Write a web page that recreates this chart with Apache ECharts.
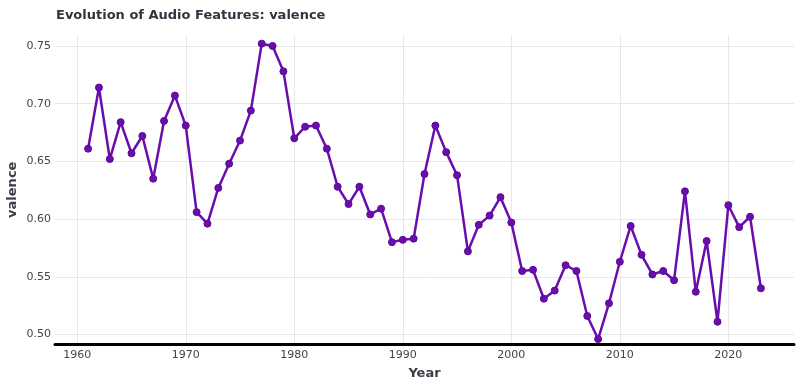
<!DOCTYPE html>
<html>
<head>
<meta charset="utf-8">
<script src="https://cdn.jsdelivr.net/npm/echarts@6/dist/echarts.min.js"></script>
<style>
html,body{margin:0;padding:0;background:#fff;}
#c{width:800px;height:387px;}
</style>
</head>
<body>
<div id="c"></div>
<script>
const years = [1961,1962,1963,1964,1965,1966,1967,1968,1969,1970,
  1971,1972,1973,1974,1975,1976,1977,1978,1979,1980,
  1981,1982,1983,1984,1985,1986,1987,1988,1989,1990,
  1991,1992,1993,1994,1995,1996,1997,1998,1999,2000,
  2001,2002,2003,2004,2005,2006,2007,2008,2009,2010,
  2011,2012,2013,2014,2015,2016,2017,2018,2019,2020,
  2021,2022,2023];
const valence = [0.661,0.714,0.652,0.684,0.657,0.672,0.635,0.685,0.707,0.681,
  0.606,0.596,0.627,0.648,0.668,0.694,0.752,0.750,0.728,0.670,
  0.680,0.681,0.661,0.628,0.613,0.628,0.604,0.609,0.580,0.582,
  0.583,0.639,0.681,0.658,0.638,0.572,0.595,0.603,0.619,0.597,
  0.555,0.556,0.531,0.538,0.560,0.555,0.516,0.496,0.527,0.563,
  0.594,0.569,0.552,0.555,0.547,0.624,0.537,0.581,0.511,0.612,
  0.593,0.602,0.540];
const xTicks = [1960,1970,1980,1990,2000,2010,2020];
const yTicks = [0.50,0.55,0.60,0.65,0.70,0.75];

const chart = echarts.init(document.getElementById('c'), null, {renderer:'canvas'});
const font = 'DejaVu Sans';
chart.setOption({
  animation:false,
  backgroundColor:'#fff',
  title:{
    text:'Evolution of Audio Features: valence',
    left:51, top:4,
    textStyle:{fontFamily:font,fontWeight:'bold',fontSize:13,color:'#2f3640'}
  },
  grid:{left:55,right:6,top:35,bottom:42.5,containLabel:false,outerBoundsMode:'none'},
  xAxis:{
    type:'value',min:1957.95,max:2026.05,
    name:'Year',nameLocation:'middle',nameGap:23,nameMoveOverlap:false,
    nameTextStyle:{fontFamily:font,fontWeight:'bold',fontSize:13,color:'#3a3f47'},
    axisLine:{show:true,onZero:false,lineStyle:{color:'#000',width:3}},
    axisTick:{show:false,customValues:xTicks},
    axisLabel:{customValues:xTicks,fontFamily:font,fontSize:11,color:'#444',margin:5,formatter:v=>String(v)},
    splitLine:{show:true,lineStyle:{color:'#e8e8e8',width:1}}
  },
  yAxis:{
    type:'value',min:0.4913,max:0.7595,
    name:'valence',nameLocation:'middle',nameGap:36,nameMoveOverlap:false,
    nameTextStyle:{fontFamily:font,fontWeight:'bold',fontSize:13,color:'#3a3f47'},
    axisLine:{show:false},
    axisTick:{show:false,customValues:yTicks},
    axisLabel:{customValues:yTicks,fontFamily:font,fontSize:11,color:'#444',margin:4,formatter:v=>v.toFixed(2)},
    splitLine:{show:true,lineStyle:{color:'#e8e8e8',width:1}}
  },
  series:[{
    type:'line',
    data:years.map((y,i)=>[y,valence[i]]),
    symbol:'circle',symbolSize:7,showSymbol:true,
    lineStyle:{color:'#6a0dad',width:2.5},
    itemStyle:{color:'#6a0dad',borderColor:'#5a0a9a',borderWidth:1},
    z:3
  }]
});
</script>
</body>
</html>
